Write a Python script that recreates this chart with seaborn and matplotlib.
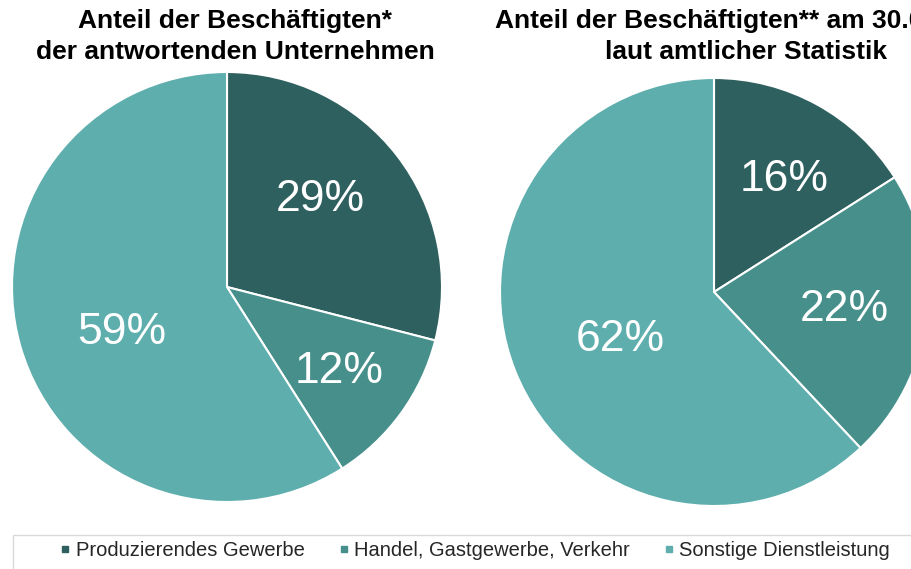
import numpy as np
import seaborn as sns
import matplotlib
matplotlib.use('Agg')
import matplotlib.pyplot as plt
from matplotlib.patches import Rectangle
from matplotlib.lines import Line2D

categories = ["Produzierendes Gewerbe", "Handel, Gastgewerbe, Verkehr", "Sonstige Dienstleistung"]
share_firms = [29, 12, 59]
share_official = [16, 22, 62]
title_firms = ["Anteil der Beschäftigten*", "der antwortenden Unternehmen"]
title_official = ["Anteil der Beschäftigten** am 30.06.", "laut amtlicher Statistik"]

sns.set_theme(style="white")
plt.rcParams['font.family'] = ['Liberation Sans', 'DejaVu Sans']
colors = sns.color_palette(["#2F6060", "#468F8B", "#5EAEAE"])

W, H = 912, 569
fig = plt.figure(figsize=(W / 100, H / 100), dpi=100)


def pie_axes(cx, cy, r):
    return fig.add_axes([(cx - r) / W, (H - cy - r) / H, 2 * r / W, 2 * r / H])


def draw_pie(ax, values, label_pos):
    ax.pie(values, colors=colors, startangle=90, counterclock=False,
           wedgeprops=dict(edgecolor="white", linewidth=1.5))
    # label placement (angle in degrees, fraction of radius), Excel-like
    for v, (ang, dist) in zip(values, label_pos):
        a = np.deg2rad(ang)
        ax.text(dist * np.cos(a), dist * np.sin(a), f"{v}%", color="white",
                fontsize=32, ha="center", va="center_baseline")
    ax.set_xlim(-1, 1)
    ax.set_ylim(-1, 1)
    ax.set_aspect("equal")
    ax.axis("off")


ax1 = pie_axes(227, 287, 215)
draw_pie(ax1, share_firms, [(44.7, 0.61), (-35.3, 0.64), (201.3, 0.525)])
ax2 = pie_axes(714, 292, 214)
draw_pie(ax2, share_official, [(59, 0.64), (-5.8, 0.61), (204.6, 0.48)])

title_kw = dict(fontsize=19, fontweight="bold", va="baseline", color="black")
fig.text(235 / W, 1 - 28 / H, title_firms[0], ha="center", **title_kw)
fig.text(235 / W, 1 - 59 / H, title_firms[1], ha="center", **title_kw)
fig.text(495 / W, 1 - 28 / H, title_official[0], ha="left", **title_kw)
fig.text(746 / W, 1 - 59 / H, title_official[1], ha="center", **title_kw)

# legend box
fig.patches.append(Rectangle((13 / W, -0.01), 1.0, (H - 535) / H + 0.01, transform=fig.transFigure,
                             facecolor="none", edgecolor="#D9D9D9", linewidth=1))
handles = [Line2D([], [], marker="s", linestyle="none", markersize=5,
                  markerfacecolor=c, markeredgecolor=c) for c in colors]
leg = fig.legend(handles, categories, loc="center", bbox_to_anchor=(474 / W, 1 - 551 / H),
                 ncol=3, frameon=False, fontsize=14.5, handletextpad=0.15,
                 columnspacing=1.6, handlelength=0.7, borderpad=0)

fig.savefig("out.png", dpi=100)
